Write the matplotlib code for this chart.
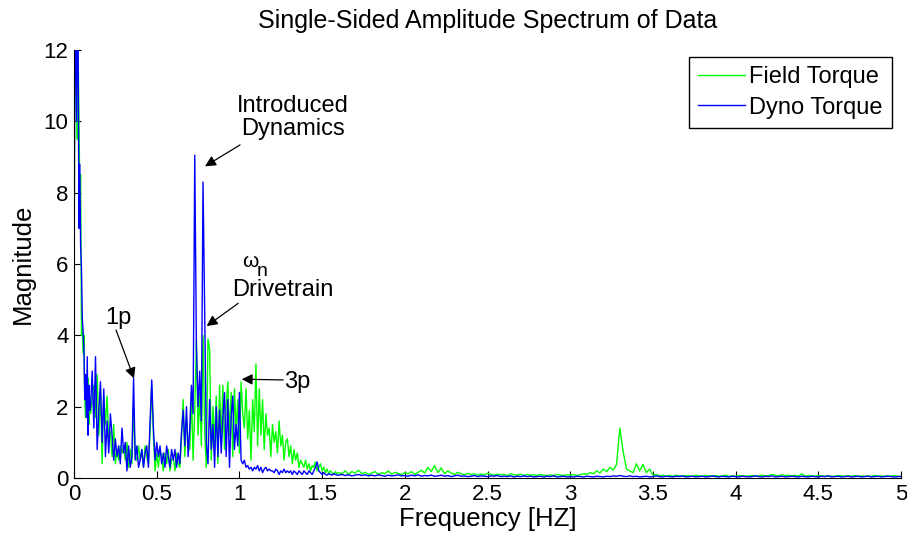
import numpy as np
import matplotlib
matplotlib.use('Agg')
import matplotlib.pyplot as plt
from matplotlib.ticker import FormatStrFormatter

plt.rcParams['font.family'] = ['Liberation Sans', 'DejaVu Sans']

# spectrum, three frequency bands with different spacing
freq_low = np.arange(0, 0.1, 0.005)
field_low = [4.3, 13, 12, 11, 9.5, 12, 9.9, 8.0, 8.5, 4.0,
             4.2, 3.5, 4.0, 2.2, 1.7, 2.5, 2.0, 2.8, 1.5, 2.3]
dyno_low = [4.4, 13, 12.5, 10, 13, 12, 7.0, 8.8, 6.5, 5.9,
            4.5, 4.1, 3.6, 2.2, 2.9, 1.7, 3.4, 1.2, 2.6, 1.9]

freq_mid = np.round(np.arange(0.10, 1.595, 0.01), 2)
field_mid = [
    1.8, 2.2, 2.6, 1.7, 2.9, 1.2, 2.5, 0.4, 2.3, 1.5,   # 0.10
    2.3, 1.0, 1.3, 0.6, 1.5, 0.4, 0.8, 0.5, 0.9, 0.7,   # 0.20
    0.9, 0.5, 1.0, 0.3, 0.8, 0.4, 2.0, 0.6, 0.5, 0.9,   # 0.30
    0.5, 0.8, 0.3, 0.9, 0.6, 0.4, 1.3, 2.6, 1.2, 0.2,   # 0.40
    0.7, 0.3, 0.8, 0.6, 0.2, 0.7, 0.4, 0.8, 0.2, 0.5,   # 0.50
    0.6, 0.2, 0.7, 0.4, 0.3, 1.1, 2.2, 0.6, 1.7, 1.0,   # 0.60
    0.8, 2.4, 0.5, 1.9, 3.85, 1.2, 2.4, 0.9, 4.0, 1.3,  # 0.70
    0.3, 3.9, 3.6, 0.5, 2.0, 1.0, 2.3, 0.4, 2.6, 1.0,   # 0.80
    2.6, 0.8, 2.0, 2.7, 1.2, 2.4, 0.6, 2.5, 1.3, 2.2,   # 0.90
    0.7, 2.7, 1.8, 1.4, 2.5, 1.1, 1.9, 0.5, 2.2, 1.3,   # 1.00
    3.2, 0.9, 2.5, 1.2, 2.2, 0.8, 1.8, 1.2, 1.4, 0.6,   # 1.10
    1.5, 1.0, 1.3, 0.7, 1.6, 0.9, 1.2, 0.5, 1.0, 1.1,   # 1.20
    0.6, 0.9, 0.4, 0.8, 0.5, 0.7, 0.3, 0.5, 0.4, 0.3,   # 1.30
    0.5, 0.25, 0.4, 0.2, 0.35, 0.3, 0.45, 0.2, 0.3, 0.4, # 1.40
    0.2, 0.3, 0.15, 0.25, 0.12, 0.2, 0.15, 0.1, 0.18, 0.12, # 1.50
]
dyno_mid = [
    2.0, 3.0, 1.4, 3.4, 0.8, 1.9, 2.7, 1.0, 2.5, 0.6,   # 0.10
    1.6, 0.7, 1.8, 1.2, 0.5, 1.1, 0.6, 0.9, 0.4, 1.4,   # 0.20
    0.7, 1.0, 0.2, 0.9, 0.3, 0.6, 2.8, 0.5, 0.9, 0.3,   # 0.30
    0.5, 0.8, 0.3, 0.7, 0.9, 0.3, 1.6, 2.75, 1.4, 0.5,  # 0.40
    1.0, 0.6, 0.9, 0.4, 0.7, 0.3, 0.9, 0.6, 0.3, 0.8,   # 0.50
    0.5, 0.8, 0.3, 0.7, 0.4, 1.3, 1.9, 0.9, 2.0, 0.6,   # 0.60
    1.4, 2.6, 1.8, 9.05, 3.7, 2.0, 3.0, 1.6, 8.3, 4.6,  # 0.70
    1.0, 0.4, 2.2, 0.8, 1.5, 0.3, 2.0, 0.6, 1.9, 0.7,   # 0.80
    1.7, 2.4, 0.6, 2.2, 0.3, 1.7, 2.3, 0.8, 1.5, 0.9,   # 0.90
    2.4, 0.5, 0.4, 0.5, 0.3, 0.35, 0.25, 0.3, 0.2, 0.3, # 1.00
    0.25, 0.35, 0.2, 0.3, 0.15, 0.25, 0.3, 0.2, 0.25, 0.2, # 1.10
    0.2, 0.15, 0.25, 0.2, 0.1, 0.2, 0.15, 0.25, 0.15, 0.2, # 1.20
    0.15, 0.2, 0.1, 0.2, 0.15, 0.1, 0.2, 0.15, 0.1, 0.2,   # 1.30
    0.15, 0.1, 0.2, 0.15, 0.1, 0.2, 0.3, 0.45, 0.2, 0.15,  # 1.40
    0.1, 0.15, 0.1, 0.08, 0.12, 0.1, 0.08, 0.12, 0.1, 0.08, # 1.50
]

freq_high = np.round(np.arange(1.60, 5.001, 0.02), 2)
field_high = [
    0.15, 0.12, 0.2, 0.1, 0.18, 0.14, 0.22, 0.12, 0.16, 0.1,   # 1.6
    0.14, 0.18, 0.1, 0.15, 0.12, 0.2, 0.11, 0.16, 0.13, 0.1,   # 1.8
    0.15, 0.12, 0.18, 0.1, 0.16, 0.22, 0.14, 0.3, 0.18, 0.35,  # 2.0
    0.15, 0.28, 0.12, 0.2, 0.14, 0.1, 0.16, 0.12, 0.09, 0.13,  # 2.2
    0.1, 0.12, 0.08, 0.11, 0.09, 0.13, 0.1, 0.08, 0.11, 0.09,  # 2.4
    0.1, 0.07, 0.12, 0.09, 0.08, 0.11, 0.07, 0.1, 0.08, 0.09,  # 2.6
    0.07, 0.1, 0.08, 0.06, 0.09, 0.07, 0.1, 0.08, 0.07, 0.09,  # 2.8
    0.08, 0.1, 0.07, 0.09, 0.12, 0.1, 0.15, 0.12, 0.2, 0.14,   # 3.0
    0.25, 0.18, 0.3, 0.22, 0.38, 1.4, 0.75, 0.25, 0.2, 0.15,   # 3.2
    0.4, 0.2, 0.38, 0.15, 0.25, 0.08, 0.1, 0.06, 0.08, 0.05,   # 3.4
    0.07, 0.05, 0.08, 0.06, 0.05, 0.07, 0.06, 0.05, 0.08, 0.06, # 3.6
    0.05, 0.07, 0.06, 0.05, 0.07, 0.05, 0.06, 0.08, 0.05, 0.06, # 3.8
    0.05, 0.07, 0.06, 0.05, 0.06, 0.07, 0.05, 0.06, 0.08, 0.06, # 4.0
    0.07, 0.1, 0.08, 0.06, 0.09, 0.07, 0.08, 0.06, 0.08, 0.05,  # 4.2
    0.12, 0.05, 0.07, 0.06, 0.05, 0.07, 0.06, 0.05, 0.06, 0.05, # 4.4
    0.05, 0.07, 0.06, 0.05, 0.06, 0.05, 0.07, 0.05, 0.06, 0.05, # 4.6
    0.06, 0.05, 0.07, 0.05, 0.06, 0.05, 0.06, 0.05, 0.07, 0.05, # 4.8
    0.05,
]
dyno_high = [
    0.08, 0.1, 0.07, 0.09, 0.06, 0.08, 0.1, 0.07, 0.09, 0.06,  # 1.6
    0.08, 0.06, 0.09, 0.07, 0.05, 0.08, 0.06, 0.07, 0.09, 0.06, # 1.8
    0.07, 0.05, 0.08, 0.06, 0.09, 0.05, 0.07, 0.06, 0.08, 0.05, # 2.0
    0.06, 0.08, 0.05, 0.07, 0.04, 0.06, 0.08, 0.05, 0.06, 0.04, # 2.2
    0.05, 0.07, 0.04, 0.06, 0.05, 0.04, 0.06, 0.05, 0.07, 0.04, # 2.4
    0.05, 0.04, 0.06, 0.03, 0.05, 0.04, 0.06, 0.04, 0.05, 0.03, # 2.6
    0.04, 0.05, 0.03, 0.05, 0.04, 0.06, 0.03, 0.04, 0.05, 0.03, # 2.8
    0.04, 0.03, 0.05, 0.04, 0.03, 0.05, 0.04, 0.03, 0.05, 0.04, # 3.0
    0.03, 0.05, 0.04, 0.06, 0.05, 0.07, 0.05, 0.04, 0.06, 0.04, # 3.2
    0.05, 0.03, 0.04, 0.05, 0.03, 0.04, 0.06, 0.04, 0.03, 0.05, # 3.4
    0.04, 0.03, 0.05, 0.04, 0.06, 0.03, 0.04, 0.05, 0.03, 0.04, # 3.6
    0.05, 0.03, 0.04, 0.06, 0.04, 0.03, 0.05, 0.04, 0.03, 0.05, # 3.8
    0.04, 0.03, 0.05, 0.04, 0.03, 0.04, 0.06, 0.04, 0.03, 0.05, # 4.0
    0.04, 0.06, 0.03, 0.04, 0.05, 0.03, 0.04, 0.05, 0.04, 0.03, # 4.2
    0.05, 0.04, 0.03, 0.05, 0.04, 0.03, 0.05, 0.04, 0.06, 0.03, # 4.4
    0.04, 0.05, 0.03, 0.04, 0.05, 0.03, 0.04, 0.05, 0.03, 0.04, # 4.6
    0.05, 0.03, 0.04, 0.05, 0.03, 0.04, 0.05, 0.04, 0.03, 0.04, # 4.8
    0.04,
]

freq = np.concatenate([freq_low, freq_mid, freq_high])
field = np.concatenate([field_low, field_mid, field_high])
dyno = np.concatenate([dyno_low, dyno_mid, dyno_high])

fig = plt.figure(figsize=(9.07, 5.38), dpi=100)
ax = fig.add_axes([0.0816, 0.1115, 0.9118, 0.7955])

ax.plot(freq, field, color=(0, 1, 0), lw=1.0, label='Field Torque')
ax.plot(freq, dyno, color=(0, 0, 1), lw=1.0, label='Dyno Torque')

ax.set_xlim(0, 5)
ax.set_ylim(0, 12)
ax.set_xticks(np.arange(0, 5.01, 0.5))
ax.set_yticks(np.arange(0, 12.1, 2))
ax.xaxis.set_major_formatter(FormatStrFormatter('%g'))
ax.tick_params(direction='in', length=5, labelsize=16, pad=4)
for s in ['top', 'right']:
    ax.spines[s].set_visible(False)

ax.set_title('Single-Sided Amplitude Spectrum of Data', fontsize=18, pad=16)
ax.set_xlabel('Frequency [HZ]', fontsize=18.5, labelpad=2)
ax.set_ylabel('Magnitude', fontsize=18.5, labelpad=6)

leg = ax.legend(loc='upper right', bbox_to_anchor=(0.989, 0.984), borderaxespad=0,
                fontsize=17, fancybox=False, handlelength=2.0, handletextpad=0.15,
                labelspacing=0.35, borderpad=0.4, framealpha=1)
leg.get_frame().set_edgecolor('k')
leg.get_frame().set_linewidth(1.0)

arrow = dict(arrowstyle='-|>', color='k', lw=0.9, mutation_scale=16,
             shrinkA=0, shrinkB=0)
ax.annotate('', xy=(0.792, 8.74), xytext=(1.004, 9.34), arrowprops=arrow)
ax.text(1.324, 10.1, 'Introduced\nDynamics', fontsize=17, ha='center', va='center',
        linespacing=1.05)
ax.annotate('', xy=(0.802, 4.26), xytext=(0.993, 4.90), arrowprops=arrow)
ax.text(1.064, 6.06, 'ω', fontsize=15, ha='center', va='center')
ax.text(1.137, 5.78, 'n', fontsize=14, ha='center', va='center')
ax.text(1.264, 5.27, 'Drivetrain', fontsize=17, ha='center', va='center')
ax.annotate('', xy=(0.363, 2.79), xytext=(0.254, 4.15), arrowprops=arrow)
ax.text(0.266, 4.49, '1p', fontsize=17, ha='center', va='center')
ax.annotate('', xy=(1.014, 2.77), xytext=(1.265, 2.75), arrowprops=arrow)
ax.text(1.348, 2.69, '3p', fontsize=17, ha='center', va='center')

fig.savefig('out.png', dpi=100)
